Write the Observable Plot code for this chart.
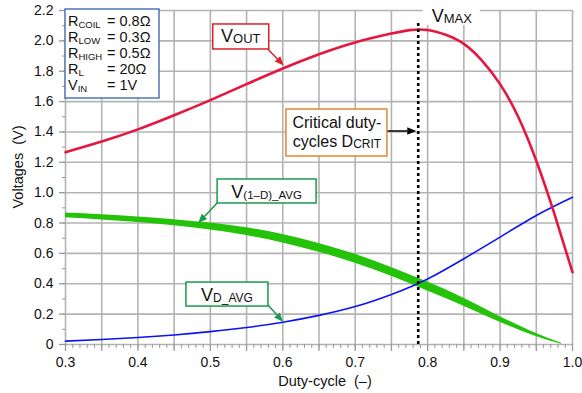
<!DOCTYPE html>
<html>
<head>
<meta charset="utf-8">
<script src="https://cdn.jsdelivr.net/npm/d3@7"></script>
<script src="https://cdn.jsdelivr.net/npm/@observablehq/plot@0.6"></script>
<style>
  html, body { margin: 0; padding: 0; background: #fff; }
  #chart { width: 582px; height: 393px; }
</style>
</head>
<body>
<div id="chart"></div>
<script>
// ---- data ----
const voutD = [0.3, 0.35, 0.4, 0.45, 0.5, 0.55, 0.6, 0.65, 0.7, 0.75, 0.775, 0.8, 0.825, 0.85, 0.875, 0.9, 0.925, 0.95, 0.975, 1.0];
const voutV = [1.267, 1.337, 1.417, 1.51, 1.61, 1.715, 1.818, 1.912, 1.99, 2.048, 2.071, 2.072, 2.04, 1.98, 1.87, 1.715, 1.50, 1.21, 0.86, 0.476];

const vdD = [0.3, 0.35, 0.4, 0.45, 0.5, 0.55, 0.6, 0.65, 0.7, 0.75, 0.8, 0.85, 0.9, 0.95, 1.0];
const vdV = [0.022, 0.033, 0.046, 0.063, 0.085, 0.112, 0.147, 0.192, 0.25, 0.33, 0.432, 0.565, 0.707, 0.85, 0.97];

const v1dD = [0.3, 0.35, 0.4, 0.45, 0.5, 0.55, 0.6, 0.65, 0.7, 0.75, 0.8, 0.85, 0.9, 0.95, 0.985];
const v1dV = [0.85, 0.837, 0.822, 0.802, 0.777, 0.743, 0.697, 0.637, 0.565, 0.478, 0.382, 0.278, 0.165, 0.062, 0.005];
const v1dSpread = [0.031, 0.034, 0.037, 0.041, 0.045, 0.051, 0.056, 0.058, 0.058, 0.058, 0.058, 0.052, 0.036, 0.020, 0.007];

const dCrit = 0.787;

const xLabelTicks = [0.3, 0.4, 0.5, 0.6, 0.7, 0.8, 0.9, 1.0];
const xGridTicks = [0.3, 0.35, 0.4, 0.45, 0.5, 0.55, 0.6, 0.65, 0.7, 0.75, 0.8, 0.85, 0.9, 0.95, 1.0];
const xMinorTicks = d3.range(30, 101).map(d => d / 100);
const yTicks = [0, 0.2, 0.4, 0.6, 0.8, 1.0, 1.2, 1.4, 1.6, 1.8, 2.0, 2.2];
const yMinorTicks = d3.range(0, 23).map(d => d / 10);

const legendRows = [
  {main: "R", sub: "COIL", value: "= 0.8Ω"},
  {main: "R", sub: "LOW", value: "= 0.3Ω"},
  {main: "R", sub: "HIGH", value: "= 0.5Ω"},
  {main: "R", sub: "L", value: "= 20Ω"},
  {main: "V", sub: "IN", value: "= 1V"}
];

// ---- styles ----
const FONT = "'Liberation Sans', Arial, Helvetica, sans-serif";
const GRID = "#b3b3b3";
const RED = "#e5173f";
const BLUE = "#0a14f5";
const GREEN = "#25c20a";
const BOXGREEN = "#1a9a4a";

const voutData = voutD.map((d, i) => ({D: d, V: voutV[i]}));
const vdData = vdD.map((d, i) => ({D: d, V: vdV[i]}));
const v1dData = v1dD.map((d, i) => ({D: d, V: v1dV[i], S: v1dSpread[i]}));

const plot = Plot.plot({
  width: 582,
  height: 393,
  marginLeft: 65,
  marginRight: 10,
  marginTop: 10,
  marginBottom: 49,
  style: {fontFamily: FONT, fontSize: "14px", color: "#111", background: "#fff"},
  x: {domain: [0.3, 1.0]},
  y: {domain: [0, 2.2]},
  marks: [
    Plot.ruleX(xGridTicks, {stroke: GRID, strokeWidth: 1.6}),
    Plot.ruleY(yTicks, {stroke: GRID, strokeWidth: 1.6}),
    Plot.axisX({ticks: xMinorTicks, tickSize: 4, text: null, stroke: "#9a9a9a", label: null}),
    Plot.axisX({ticks: xGridTicks, tickSize: 7, text: null, stroke: "#9a9a9a", strokeWidth: 1.3, label: null}),
    Plot.axisX({ticks: xLabelTicks, tickSize: 0, tickPadding: 13, tickFormat: d => d.toFixed(1), fontSize: 14, label: null}),
    Plot.axisY({ticks: yMinorTicks, tickSize: 3, text: null, stroke: "#9a9a9a", label: null}),
    Plot.axisY({ticks: yTicks, tickSize: 6, tickPadding: 6, stroke: "#9a9a9a", strokeWidth: 1.3,
      tickFormat: d => d === 0 ? "0" : d.toFixed(1), fontSize: 14, label: null}),
    Plot.areaY(v1dData, {x: "D", y1: d => d.V - d.S / 2, y2: d => d.V + d.S / 2, fill: GREEN, curve: "natural"}),
    Plot.line(vdData, {x: "D", y: "V", stroke: BLUE, strokeWidth: 1.6, curve: "natural"}),
    Plot.line(voutData, {x: "D", y: "V", stroke: RED, strokeWidth: 2.6, curve: "natural"}),
    Plot.ruleX([dCrit], {y1: 0, y2: 2.134, stroke: "#000", strokeWidth: 2.6, strokeDasharray: "3,3"})
  ]
});
document.getElementById("chart").appendChild(plot);

const sx = plot.scale("x"), sy = plot.scale("y");
const X = v => sx.apply(v), Y = v => sy.apply(v);
const svg = d3.select(plot);
const g = svg.append("g").attr("font-family", FONT).attr("fill", "#111").attr("text-anchor", "start");

function box(x, y, w, h, color) {
  g.append("rect").attr("x", x).attr("y", y).attr("width", w).attr("height", h)
    .attr("fill", "#fff").attr("stroke", color).attr("stroke-width", 1.5);
}
function subText(cx, baseline, main, sub, mainSize, subSize, anchor = "middle", subDy = 2) {
  const t = g.append("text").attr("x", cx).attr("y", baseline).attr("text-anchor", anchor);
  t.append("tspan").attr("font-size", mainSize).text(main);
  t.append("tspan").attr("font-size", subSize).attr("dy", subDy).text(sub);
  return t;
}
function arrow(x1, y1, x2, y2, color, len = 9, half = 3.8) {
  const a = Math.atan2(y2 - y1, x2 - x1);
  const bx = x2 - len * Math.cos(a), by = y2 - len * Math.sin(a);
  g.append("line").attr("x1", x1).attr("y1", y1).attr("x2", bx).attr("y2", by)
    .attr("stroke", color).attr("stroke-width", 1.5);
  const px = -Math.sin(a) * half, py = Math.cos(a) * half;
  g.append("polygon").attr("points", `${x2},${y2} ${bx + px},${by + py} ${bx - px},${by - py}`).attr("fill", color);
}

// Legend box (top-left)
{
  const x0 = X(0.3), y0 = Y(2.2) - 1;
  box(x0, y0, 94, 89, "#4f74b4");
  legendRows.forEach((r, i) => {
    const base = y0 + 17 + i * 16;
    subText(x0 + 3, base, r.main, r.sub, 14.5, 9.5, "start", 2);
    g.append("text").attr("x", x0 + 42).attr("y", base).attr("text-anchor", "start")
      .attr("font-size", 14.5).text(r.value);
  });
}

// VMAX label
{
  const cx = X(0.834), base = Y(2.2) + 12;
  g.append("rect").attr("x", cx - 29).attr("y", 0).attr("width", 57).attr("height", 25).attr("fill", "#fff");
  subText(cx, base, "V", "MAX", 18, 13, "middle", 1);
}

// VOUT box
{
  const x0 = X(0.504), y0 = Y(2.108);
  arrow(x0 + 55, y0 + 25, X(0.602), Y(1.835), "#d8232a");
  box(x0, y0, 56, 25, "#d8232a");
  subText(x0 + 28, y0 + 18.5, "V", "OUT", 18, 13, "middle", 1);
}

// Critical duty-cycles box
{
  const x0 = X(0.605), y0 = Y(1.548);
  arrow(x0 + 101, y0 + 22, X(dCrit) - 1.5, y0 + 22, "#000", 9, 3.8);
  box(x0, y0, 101, 47, "#e8832f");
  g.append("text").attr("x", x0 + 51).attr("y", y0 + 19).attr("text-anchor", "middle").attr("font-size", 16).text("Critical duty-");
  subText(x0 + 51, y0 + 38, "cycles D", "CRIT", 16, 12, "middle", 1);
}

// V(1-D)_AVG box
{
  const x0 = X(0.51), y0 = Y(1.087);
  arrow(x0, y0 + 24, X(0.484), Y(0.797), BOXGREEN);
  box(x0, y0, 99, 24, BOXGREEN);
  subText(x0 + 49.5, y0 + 19, "V", "(1–D)_AVG", 18, 11.5, "middle", 1);
}

// VD_AVG box
{
  const x0 = X(0.467), y0 = Y(0.408);
  arrow(x0 + 82, y0 + 23, X(0.601), Y(0.147), BOXGREEN);
  box(x0, y0, 82, 24, BOXGREEN);
  subText(x0 + 41, y0 + 19, "V", "D_AVG", 18, 12, "middle", 1);
}

// Axis titles
g.append("text").attr("transform", "translate(23,167) rotate(-90)").attr("text-anchor", "middle")
  .attr("font-size", 14.5).style("white-space", "pre").text("Voltages  (V)");
g.append("text").attr("x", 325).attr("y", 386).attr("text-anchor", "middle")
  .attr("font-size", 14.5).style("white-space", "pre").text("Duty-cycle  (–)");
</script>
</body>
</html>
